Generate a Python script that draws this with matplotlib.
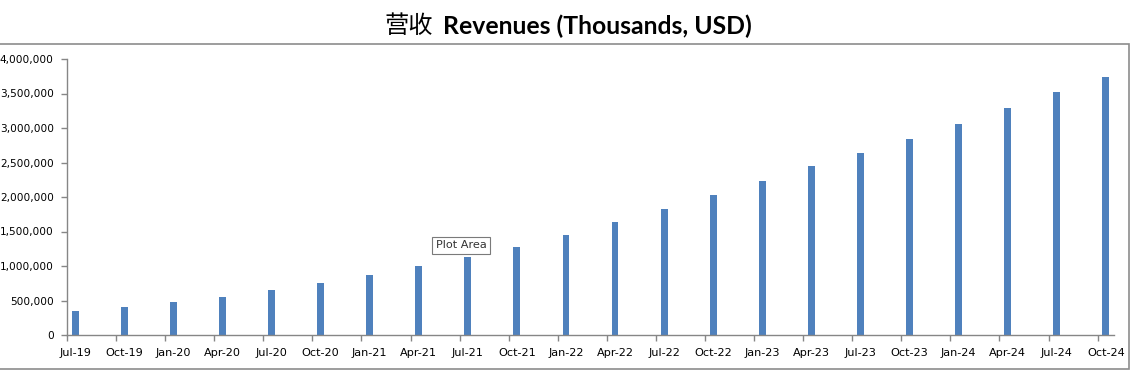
import matplotlib
matplotlib.use("Agg")
import matplotlib.pyplot as plt
from matplotlib.patches import Rectangle
from matplotlib.ticker import FuncFormatter, FixedLocator
import numpy as np

categories = ["Jul-19", "Oct-19", "Jan-20", "Apr-20", "Jul-20", "Oct-20", "Jan-21", "Apr-21",
              "Jul-21", "Oct-21", "Jan-22", "Apr-22", "Jul-22", "Oct-22", "Jan-23", "Apr-23",
              "Jul-23", "Oct-23", "Jan-24", "Apr-24", "Jul-24", "Oct-24"]
revenues = [348000, 410000, 482000, 551000, 652000, 754000, 874000, 1000000,
            1135000, 1275000, 1449000, 1638000, 1826000, 2029000, 2234000, 2449000,
            2638000, 2840000, 3058000, 3290000, 3522000, 3739000]
y_ticks = [0, 500000, 1000000, 1500000, 2000000, 2500000, 3000000, 3500000, 4000000]

W, H = 1141, 375
fig = plt.figure(figsize=(W / 100, H / 100), dpi=100)
fig.patch.set_facecolor("white")

# chart-area border
fig.add_artist(Rectangle((-1 / W, 1 - 369 / H), 1130 / W, (369 - 44) / H,
                         transform=fig.transFigure, fill=False, edgecolor="#8c8c8c", lw=1.2))

ax = fig.add_axes([67 / W, 1 - 335 / H, (1114 - 67) / W, (335 - 59) / H])

# date axis in months: each quarter = 3 month slots, bar at centre of its month slot
x = np.arange(len(categories)) * 3 + 0.5
ax.bar(x, revenues, width=0.42, color="#4F81BD", zorder=2)

ax.set_xlim(0, len(categories) * 3 - 2)
ax.set_ylim(0, 4000000)

grey = "#868686"
for s in ["top", "right"]:
    ax.spines[s].set_visible(False)
for s in ["left", "bottom"]:
    ax.spines[s].set_color(grey)
    ax.spines[s].set_linewidth(1.0)

ax.set_yticks(y_ticks)
ax.yaxis.set_major_formatter(FuncFormatter(lambda v, p: f"{int(v):,}"))
ax.tick_params(axis="y", direction="out", length=4, width=1, color=grey,
               labelsize=7.6, pad=5.5, labelcolor="#000000")

ax.set_xticks(x)
ax.set_xticklabels(categories)
ax.xaxis.set_minor_locator(FixedLocator(np.arange(len(categories)) * 3))
ax.tick_params(axis="x", which="major", length=0, labelsize=8.1, pad=9, labelcolor="#000000")
ax.tick_params(axis="x", which="minor", direction="out", length=4, width=1, color=grey)

# title
fig.text(433 / W, 1 - 26 / H, "营收", family="Noto Sans CJK SC", fontsize=17.5,
         ha="right", va="center", color="black")
fig.text(443 / W, 1 - 26 / H, "Revenues (Thousands, USD)", family="Lato", fontweight="bold",
         fontsize=17.8, ha="left", va="center", color="black")

# Excel tooltip
fig.text(461 / W, 1 - 245.5 / H, "Plot Area", fontsize=8.1, ha="center", va="center",
         color="#333333",
         bbox=dict(boxstyle="square,pad=0.35", facecolor="white", edgecolor="#7a7a7a", lw=0.8))

fig.savefig("out.png", dpi=100)
